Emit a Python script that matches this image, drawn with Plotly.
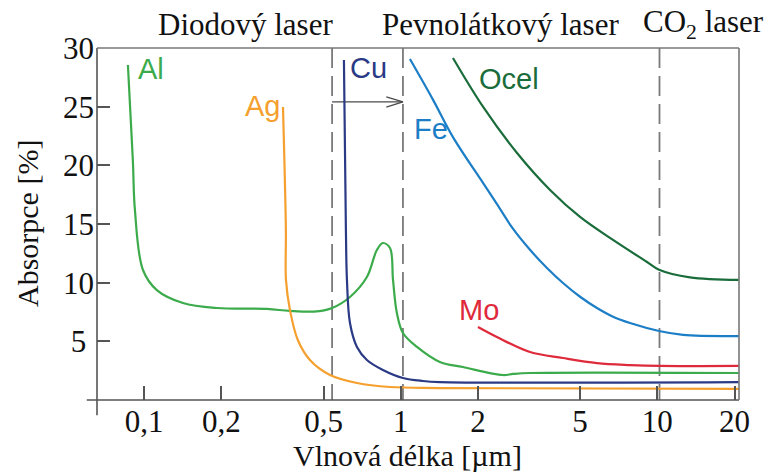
import numpy as np
import plotly.graph_objects as go

# Absorption of metals vs. wavelength (µm, log scale) in %
al_x = [0.0864, 0.0903, 0.092, 0.0989, 0.112, 0.1416, 0.192, 0.301, 0.37, 0.471, 0.54,
        0.634, 0.738, 0.807, 0.852, 0.908, 0.933, 0.966, 1.02, 1.157, 1.42, 1.747, 2.5,
        2.74, 3.19, 20.8]
al_y = [28.55, 20.45, 16.2, 11.08, 9.37, 8.27, 7.84, 7.76, 7.59, 7.55, 7.84,
        8.78, 10.48, 12.78, 13.38, 12.95, 10.23, 7.41, 5.71, 4.52, 3.24, 2.81, 2.13,
        2.22, 2.3, 2.3]

ag_x = [0.3475, 0.3567, 0.357, 0.37, 0.397, 0.4426, 0.53, 0.675, 0.908, 1.42, 20.8]
ag_y = [24.97, 14.49, 10.23, 7.67, 5.11, 3.41, 2.13, 1.45, 1.11, 1.02, 0.94]

cu_x = [0.6005, 0.6113, 0.617, 0.634, 0.675, 0.738, 0.852, 1.02, 1.22, 1.42, 20.8]
cu_y = [28.98, 14.49, 10.23, 6.56, 4.52, 3.41, 2.56, 1.875, 1.62, 1.53, 1.53]

fe_x = [1.086, 1.335, 1.598, 2.092, 2.372, 2.737, 3.19, 3.715, 4.29, 5.0, 5.82, 6.72,
        7.83, 10.16, 12.6, 20.8]
fe_y = [29.06, 25.6, 22.4, 18.5, 16.7, 14.6, 12.8, 11.25, 9.97, 8.8, 7.84, 7.1,
        6.56, 5.88, 5.55, 5.45]

ocel_x = [1.598, 2.092, 2.84, 3.82, 5.0, 6.72, 9.12, 10.16, 13.4, 20.8]
ocel_y = [29.15, 25.0, 21.05, 17.9, 15.6, 13.64, 11.76, 11.1, 10.45, 10.23]

mo_x = [2.0, 2.37, 3.19, 4.29, 5.82, 7.83, 10.2, 20.8]
mo_y = [6.22, 5.37, 4.09, 3.58, 3.15, 2.98, 2.9, 2.9]

# Laser wavelengths marked by dashed lines (µm)
laser_lines = [0.54, 1.02, 10.2]
arrow_y = 25.4

x_ticks = [0.1, 0.2, 0.5, 1, 2, 5, 10, 20]
x_ticktext = ["0,1", "0,2", "0,5", "1", "2", "5", "10", "20"]
y_ticks = [5, 10, 15, 20, 25, 30]
y_ticktext = ["5\u00a0", "10", "15", "20", "25", "30"]

series = [
    ("Al", al_x, al_y, "#3cab4b", 0.0929, 28.2),
    ("Ag", ag_x, ag_y, "#f5a02e", 0.2425, 25.06),
    ("Cu", cu_x, cu_y, "#2b3a85", 0.6226, 28.3),
    ("Fe", fe_x, fe_y, "#1c7ec6", 1.106, 23.1),
    ("Ocel", ocel_x, ocel_y, "#1a6c3b", 1.98, 27.36),
    ("Mo", mo_x, mo_y, "#de2a3b", 1.655, 7.67),
]

SERIF = "Liberation Serif, Times New Roman, serif"
SANS = "Liberation Sans, Arial, sans-serif"

fig = go.Figure()

# dashed laser-wavelength markers
for lx in laser_lines:
    fig.add_trace(go.Scatter(
        x=[lx, lx], y=[30, 0], mode="lines",
        line=dict(color="#7a7a7a", width=1.8, dash="20px,8px"),
        hoverinfo="skip", showlegend=False))

# arrow between the first two laser lines
head = laser_lines[1]
arm_x = 10 ** (np.log10(head) - 0.065)
fig.add_trace(go.Scatter(
    x=[laser_lines[0], head], y=[arrow_y, arrow_y], mode="lines",
    line=dict(color="#4a4a4a", width=1.3), hoverinfo="skip", showlegend=False))
fig.add_trace(go.Scatter(
    x=[arm_x, head, arm_x], y=[arrow_y + 0.43, arrow_y, arrow_y - 0.43], mode="lines",
    line=dict(color="#4a4a4a", width=1.3), hoverinfo="skip", showlegend=False))

annotations = []
for name, xs, ys, color, lx, ly in series:
    fig.add_trace(go.Scatter(
        x=xs, y=ys, mode="lines", name=name,
        line=dict(color=color, width=2.2, shape="spline", smoothing=1.0),
        showlegend=False))
    annotations.append(dict(
        x=np.log10(lx), y=ly, xref="x", yref="y", text=name, showarrow=False,
        xanchor="left", yanchor="middle",
        font=dict(family=SANS, size=29, color=color)))

# laser type headings above the plot
for text, xp in [("Diodový laser", 0.231), ("Pevnolátkový laser", 0.629),
                 ("CO<sub>2</sub> laser", 0.944)]:
    annotations.append(dict(
        x=xp, y=1.068, xref="paper", yref="paper", text=text, showarrow=False,
        xanchor="center", yanchor="middle",
        font=dict(family=SERIF, size=31, color="#111")))

# axis titles
annotations.append(dict(
    x=0.483, y=-0.158, xref="paper", yref="paper", text="Vlnová délka [µm]",
    showarrow=False, xanchor="center", yanchor="middle",
    font=dict(family=SERIF, size=30, color="#111")))
annotations.append(dict(
    x=-0.109, y=0.5, xref="paper", yref="paper", text="Absorpce [%]",
    showarrow=False, xanchor="center", yanchor="middle", textangle=-90,
    font=dict(family=SERIF, size=30, color="#111")))

# frame: axis lines overhang slightly at the origin
frame = [
    dict(x0=0, x1=0, y0=-0.043, y1=1, color="#555"),
    dict(x0=-0.016, x1=1, y0=0, y1=0, color="#555"),
    dict(x0=0, x1=1, y0=1, y1=1, color="#777"),
    dict(x0=1, x1=1, y0=0, y1=1, color="#777"),
]
shapes = [dict(type="line", xref="paper", yref="paper", x0=f["x0"], x1=f["x1"],
               y0=f["y0"], y1=f["y1"], line=dict(color=f["color"], width=1.6))
          for f in frame]

fig.update_layout(
    width=769, height=473,
    margin=dict(l=97, r=30, t=48, b=73),
    paper_bgcolor="white", plot_bgcolor="white",
    showlegend=False,
    annotations=annotations,
    shapes=shapes,
    xaxis=dict(type="log", range=[-1.184, 1.3185], tickvals=x_ticks, ticktext=x_ticktext,
               ticks="inside", ticklen=14, tickwidth=1.5, tickcolor="#555",
               showgrid=False, zeroline=False, showline=False,
               tickfont=dict(family=SERIF, size=31, color="#111")),
    yaxis=dict(range=[0, 30], tickvals=y_ticks, ticktext=y_ticktext,
               ticks="inside", ticklen=13, tickwidth=1.5, tickcolor="#555",
               showgrid=False, zeroline=False, showline=False,
               ticklabelstandoff=2,
               tickfont=dict(family=SERIF, size=31, color="#111")),
)

fig.write_html("out.html")
